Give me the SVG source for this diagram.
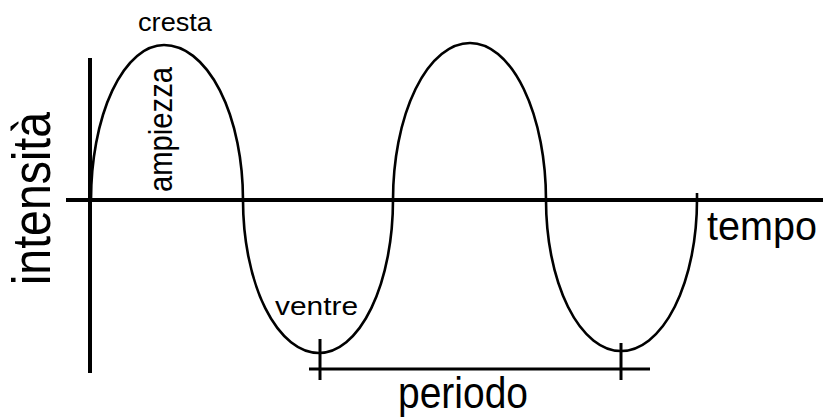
<svg xmlns="http://www.w3.org/2000/svg" width="823" height="418" viewBox="0 0 823 418">
<style>
.ax{stroke:#000;stroke-width:4;fill:none}
.tk{stroke:#000;stroke-width:3;fill:none}
.wave{stroke:#000;stroke-width:2.6;fill:none}
.t{font-family:"Liberation Sans",Arial,sans-serif;fill:#000}
</style>
<rect width="823" height="418" fill="#fff"/>
<g id="axes">
<line class="ax" x1="90" y1="58" x2="90" y2="373"/>
<line class="ax" x1="66" y1="200" x2="823" y2="200"/>
</g>
<g id="wave">
<path class="wave" d="M91,200 A73,155 0 0 1 164,45 A79,155 0 0 1 243,200 A76,153 0 0 0 319,353 A74,153 0 0 0 393,200 A77,157 0 0 1 470,43 A76,157 0 0 1 546,200 A75,151 0 0 0 621,351 A76,151 0 0 0 697,200 L697,193"/>
</g>
<g id="period">
<line class="tk" x1="309" y1="369" x2="650" y2="369"/>
<line class="tk" x1="320" y1="339" x2="320" y2="380"/>
<line class="tk" x1="621" y1="343" x2="621" y2="380"/>
</g>
<g id="labels">
<text class="t" font-size="53" textLength="173" lengthAdjust="spacingAndGlyphs" text-anchor="middle" transform="translate(50,198.5) rotate(-90)">intensità</text>
<text class="t" font-size="25" x="138" y="31" textLength="74" lengthAdjust="spacingAndGlyphs">cresta</text>
<text class="t" font-size="33" textLength="125" lengthAdjust="spacingAndGlyphs" transform="translate(172,192) rotate(-90)">ampiezza</text>
<text class="t" font-size="26" x="275" y="315" textLength="83" lengthAdjust="spacingAndGlyphs">ventre</text>
<text class="t" font-size="41" x="707" y="240" textLength="110" lengthAdjust="spacingAndGlyphs">tempo</text>
<text class="t" font-size="45" x="398" y="408" textLength="130" lengthAdjust="spacingAndGlyphs">periodo</text>
</g>
</svg>
